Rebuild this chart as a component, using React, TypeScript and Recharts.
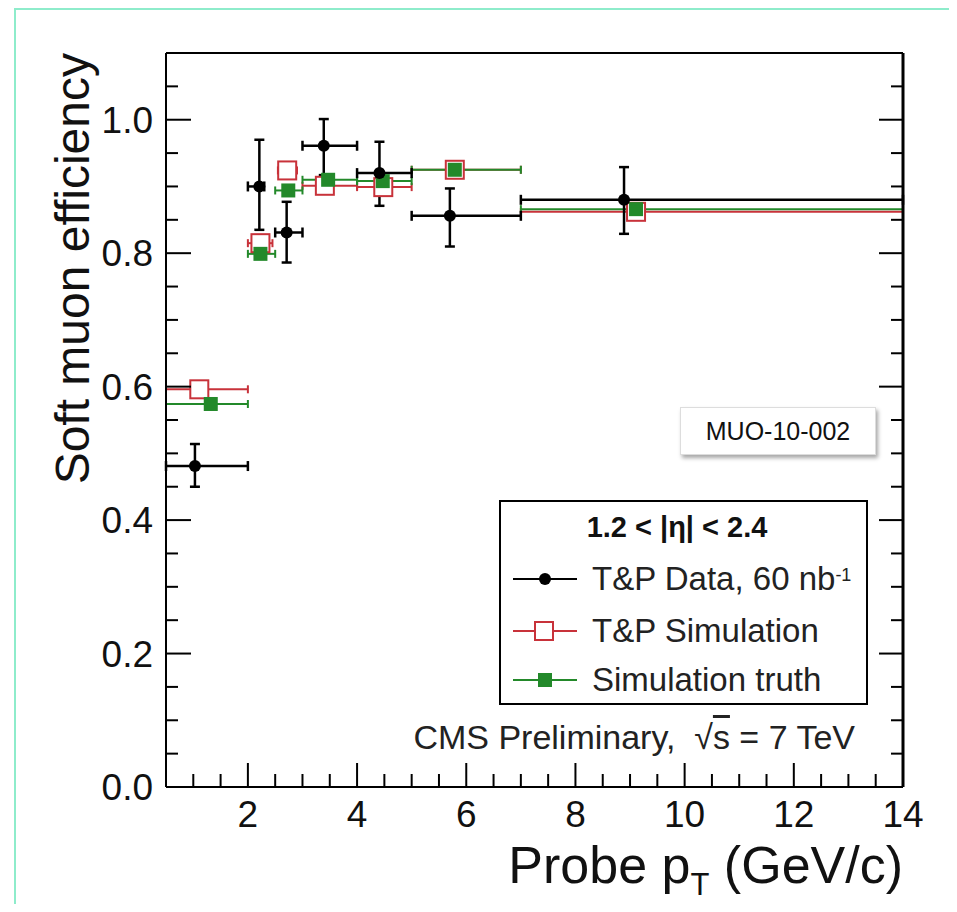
import React from "react";
import { ScatterChart, Scatter, XAxis, YAxis, ErrorBar } from "recharts";

const FONT = "'Liberation Sans', Arial, Helvetica, sans-serif";
const RED = "#c8323a";
const GREEN = "#23892a";
const MINT = "#8eeccb";

// T&P data, 60 nb-1
const dataPt = [1.03, 2.21, 2.71, 3.39, 4.41, 5.7, 8.89];
const dataEff = [0.481, 0.9, 0.831, 0.961, 0.92, 0.856, 0.88];
const dataPtLo = [0.5, 2.0, 2.5, 3.0, 4.0, 5.0, 7.0];
const dataPtHi = [2.0, 2.3, 3.0, 4.0, 5.0, 7.0, 14.0];
const dataErrLo = [0.031, 0.065, 0.045, 0.044, 0.049, 0.046, 0.051];
const dataErrHi = [0.033, 0.07, 0.046, 0.04, 0.047, 0.041, 0.049];

// T&P simulation
const simPt = [1.11, 2.23, 2.72, 3.41, 4.48, 5.79, 9.11];
const simEff = [0.596, 0.815, 0.924, 0.901, 0.899, 0.925, 0.862];
const simPtLo = [0.5, 2.0, 2.55, 3.0, 4.0, 5.0, 7.0];
const simPtHi = [2.0, 2.45, 2.9, 4.0, 5.0, 7.0, 14.0];
const simErr = [0.006, 0.012, 0.012, 0.006, 0.007, 0.004, 0.01];

// simulation truth
const truthPt = [1.32, 2.23, 2.74, 3.47, 4.47, 5.79, 9.11];
const truthEff = [0.574, 0.799, 0.894, 0.91, 0.908, 0.925, 0.866];
const truthPtLo = [0.5, 2.0, 2.5, 3.0, 4.0, 5.0, 7.0];
const truthPtHi = [2.0, 2.5, 3.0, 4.0, 5.0, 7.0, 14.0];
const truthErr = [0.004, 0.004, 0.004, 0.004, 0.004, 0.004, 0.004];

const xTicks = [0.5, 1, 1.5, 2, 2.5, 3, 3.5, 4, 4.5, 5, 5.5, 6, 6.5, 7, 7.5, 8, 8.5, 9, 9.5, 10, 10.5, 11, 11.5, 12, 12.5, 13, 13.5, 14];
const xLabels = [2, 4, 6, 8, 10, 12, 14];
const yTicks = [0, 0.05, 0.1, 0.15, 0.2, 0.25, 0.3, 0.35, 0.4, 0.45, 0.5, 0.55, 0.6, 0.65, 0.7, 0.75, 0.8, 0.85, 0.9, 0.95, 1.0, 1.05, 1.1];
const yLabels = [0, 0.2, 0.4, 0.6, 0.8, 1.0];

const toPoints = (pt: number[], eff: number[], lo: number[], hi: number[], eLo: number[], eHi: number[]) =>
  pt.map((x, i) => ({ x, y: eff[i], ex: [x - lo[i], hi[i] - x], ey: [eLo[i], eHi[i]] }));

const dataPoints = toPoints(dataPt, dataEff, dataPtLo, dataPtHi, dataErrLo, dataErrHi);
const simPoints = toPoints(simPt, simEff, simPtLo, simPtHi, simErr, simErr);
const truthPoints = toPoints(truthPt, truthEff, truthPtLo, truthPtHi, truthErr, truthErr);

const isIn = (arr: number[], v: number) => arr.some((a) => Math.abs(a - v) < 1e-6);

const BOTTOM_M = 40;
const LEFT_M = 13;

function BottomTick(props: any) {
  const { x, y, payload } = props;
  const axisY = y - BOTTOM_M;
  const major = isIn(xLabels, payload.value);
  return (
    <g>
      <line x1={x} x2={x} y1={axisY} y2={axisY - (major ? 24 : 13)} stroke="#000" strokeWidth={2} />
      {major && (
        <text x={x} y={y} textAnchor="middle" fontFamily={FONT} fontSize={37} fill="#111">
          {payload.value}
        </text>
      )}
    </g>
  );
}

function TopTick(props: any) {
  const { x, y, payload } = props;
  const major = isIn(xLabels, payload.value);
  return <line x1={x} x2={x} y1={y} y2={y + (major ? 24 : 13)} stroke="#000" strokeWidth={2} />;
}

function LeftTick(props: any) {
  const { x, y, payload } = props;
  const axisX = x + LEFT_M;
  const major = isIn(yLabels, payload.value);
  return (
    <g>
      <line x1={axisX} x2={axisX + (major ? 25 : 12)} y1={y} y2={y} stroke="#000" strokeWidth={2} />
      {major && (
        <text x={x} y={y + 13} textAnchor="end" fontFamily={FONT} fontSize={37} fill="#111">
          {payload.value.toFixed(1)}
        </text>
      )}
    </g>
  );
}

function RightTick(props: any) {
  const { x, y, payload } = props;
  const major = isIn(yLabels, payload.value);
  return <line x1={x} x2={x - (major ? 24 : 12)} y1={y} y2={y} stroke="#000" strokeWidth={2} />;
}

const dot = (props: any) => <circle cx={props.cx} cy={props.cy} r={6} fill="#000" />;
const openSquare = (props: any) => (
  <rect x={props.cx - 9} y={props.cy - 9} width={18} height={18} fill="#fff" stroke={RED} strokeWidth={2} />
);
const fullSquare = (props: any) => (
  <rect x={props.cx - 7} y={props.cy - 7} width={14} height={14} fill={GREEN} />
);

function LegendMarker({ kind }: { kind: string }) {
  const color = kind === "data" ? "#000" : kind === "sim" ? RED : GREEN;
  return (
    <svg width={66} height={30} style={{ position: "absolute", left: 12, top: -15 }}>
      <line x1={0} x2={64} y1={15} y2={15} stroke={color} strokeWidth={2} />
      {kind === "data" && <circle cx={32} cy={15} r={6} fill="#000" />}
      {kind === "sim" && <rect x={22} y={6} width={18} height={18} fill="#fff" stroke={RED} strokeWidth={2} />}
      {kind === "truth" && <rect x={25} y={8} width={14} height={14} fill={GREEN} />}
    </svg>
  );
}

export default function App() {
  const legendText: React.CSSProperties = {
    position: "absolute",
    left: 91,
    fontFamily: FONT,
    fontSize: 33,
    color: "#222",
    lineHeight: "34px",
    whiteSpace: "nowrap",
  };
  return (
    <div style={{ position: "relative", width: 941, height: 896 }}>
      {/* mint frame of the page: top and left edges only */}
      <div style={{ position: "absolute", left: 6, top: 0, width: 935, height: 2, background: MINT }} />
      <div style={{ position: "absolute", left: 6, top: 0, width: 2, height: 896, background: MINT }} />

      <div style={{ position: "absolute", left: 0, top: 0 }}>
        <ScatterChart width={940} height={896} margin={{ top: 0, right: 0, bottom: 0, left: 0 }}>
          <XAxis
            dataKey="x"
            type="number"
            domain={[0.5, 14]}
            ticks={xTicks}
            interval={0}
            height={117}
            tickSize={0}
            tickMargin={BOTTOM_M}
            tickLine={false}
            axisLine={{ stroke: "#000", strokeWidth: 2 }}
            tick={<BottomTick />}
            allowDataOverflow
            label={{
              content: (p: any) => {
                const vb = p.viewBox;
                return (
                  <text x={vb.x + vb.width} y={vb.y + 96} textAnchor="end" fontFamily={FONT} fontSize={52} fill="#111">
                    Probe p
                    <tspan fontSize={31} dy={12}>T</tspan>
                    <tspan dy={-12}> (GeV/c)</tspan>
                  </text>
                );
              },
            }}
          />
          <XAxis
            xAxisId="top"
            orientation="top"
            type="number"
            domain={[0.5, 14]}
            ticks={xTicks}
            interval={0}
            height={45}
            tickSize={0}
            tickMargin={0}
            tickLine={false}
            axisLine={{ stroke: "#000", strokeWidth: 2 }}
            tick={<TopTick />}
            allowDataOverflow
          />
          <YAxis
            dataKey="y"
            type="number"
            domain={[0, 1.1]}
            ticks={yTicks}
            interval={0}
            width={158}
            tickSize={0}
            tickMargin={LEFT_M}
            tickLine={false}
            axisLine={{ stroke: "#000", strokeWidth: 2 }}
            tick={<LeftTick />}
            allowDataOverflow
            label={{
              content: (p: any) => {
                const vb = p.viewBox;
                return (
                  <text
                    transform={`translate(81, ${vb.y}) rotate(-90)`}
                    textAnchor="end"
                    fontFamily={FONT}
                    fontSize={48}
                    fill="#111"
                  >
                    Soft muon efficiency
                  </text>
                );
              },
            }}
          />
          <YAxis
            yAxisId="right"
            orientation="right"
            type="number"
            domain={[0, 1.1]}
            ticks={yTicks}
            interval={0}
            width={45}
            tickSize={0}
            tickMargin={0}
            tickLine={false}
            axisLine={{ stroke: "#000", strokeWidth: 3 }}
            tick={<RightTick />}
            allowDataOverflow
          />
          <Scatter data={simPoints} shape={openSquare} isAnimationActive={false}>
            <ErrorBar dataKey="ex" direction="x" width={4} stroke={RED} strokeWidth={2} isAnimationActive={false} />
            <ErrorBar dataKey="ey" direction="y" width={4} stroke={RED} strokeWidth={2} isAnimationActive={false} />
          </Scatter>
          <Scatter data={truthPoints} shape={fullSquare} isAnimationActive={false}>
            <ErrorBar dataKey="ex" direction="x" width={4} stroke={GREEN} strokeWidth={2} isAnimationActive={false} />
            <ErrorBar dataKey="ey" direction="y" width={4} stroke={GREEN} strokeWidth={2} isAnimationActive={false} />
          </Scatter>
          <Scatter data={dataPoints} shape={dot} isAnimationActive={false}>
            <ErrorBar dataKey="ex" direction="x" width={5} stroke="#000" strokeWidth={2.5} isAnimationActive={false} />
            <ErrorBar dataKey="ey" direction="y" width={5} stroke="#000" strokeWidth={2.5} isAnimationActive={false} />
          </Scatter>
        </ScatterChart>
      </div>

      {/* note box */}
      <div
        style={{
          position: "absolute",
          left: 672,
          top: 399,
          width: 196,
          height: 48,
          background: "#fff",
          border: "1px solid #ddd",
          boxShadow: "2px 3px 4px rgba(0,0,0,0.35)",
          boxSizing: "border-box",
          fontFamily: FONT,
          fontSize: 25,
          color: "#111",
          display: "flex",
          alignItems: "center",
          justifyContent: "center",
        }}
      >
        MUO-10-002
      </div>

      {/* legend */}
      <div
        style={{
          position: "absolute",
          left: 491,
          top: 492,
          width: 369,
          height: 205,
          border: "2px solid #000",
          boxSizing: "border-box",
          background: "#fff",
        }}
      >
        <div
          style={{
            position: "absolute",
            left: 0,
            width: 352,
            top: 9,
            textAlign: "center",
            fontFamily: FONT,
            fontWeight: "bold",
            fontSize: 29,
            color: "#111",
            whiteSpace: "nowrap",
          }}
        >
          1.2 &lt; |η| &lt; 2.4
        </div>
        <div style={{ position: "absolute", left: 0, top: 77 }}>
          <LegendMarker kind="data" />
        </div>
        <div style={{ ...legendText, top: 60 }}>
          T&amp;P Data, 60 nb<sup style={{ fontSize: 18, verticalAlign: "top", position: "relative", top: -4 }}>-1</sup>
        </div>
        <div style={{ position: "absolute", left: 0, top: 129 }}>
          <LegendMarker kind="sim" />
        </div>
        <div style={{ ...legendText, top: 112 }}>T&amp;P Simulation</div>
        <div style={{ position: "absolute", left: 0, top: 178 }}>
          <LegendMarker kind="truth" />
        </div>
        <div style={{ ...legendText, top: 161 }}>Simulation truth</div>
      </div>

      {/* CMS label */}
      <div
        style={{
          position: "absolute",
          right: 941 - 847,
          top: 710,
          fontFamily: FONT,
          fontSize: 34,
          color: "#222",
          whiteSpace: "nowrap",
        }}
      >
        CMS Preliminary,&nbsp; √<span style={{ textDecoration: "overline" }}>s</span> = 7 TeV
      </div>
    </div>
  );
}
